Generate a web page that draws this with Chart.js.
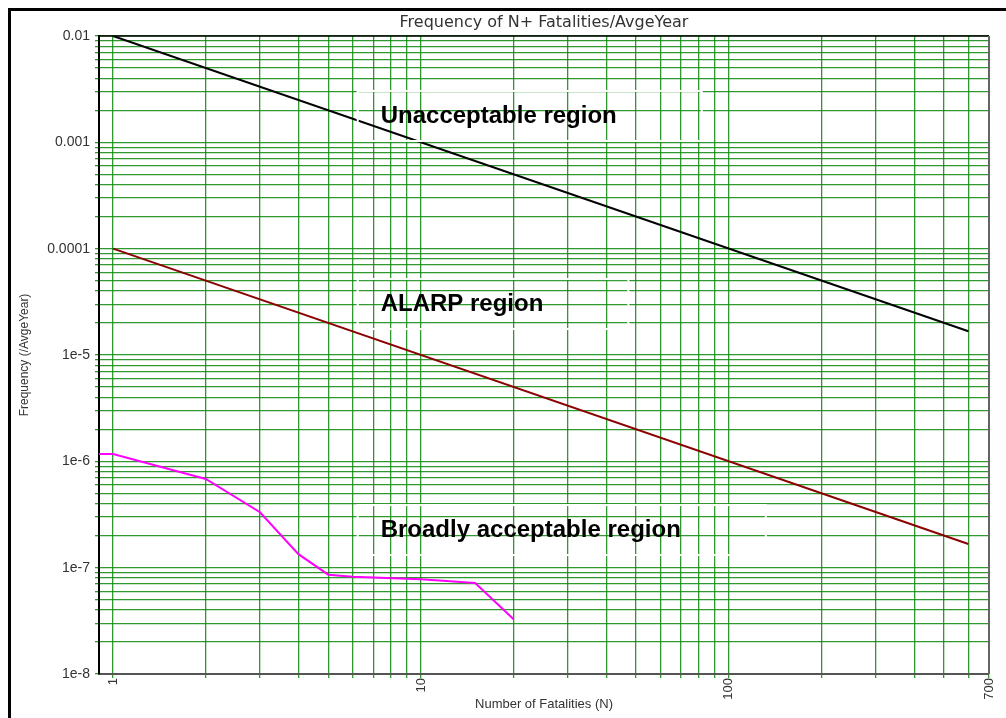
<!DOCTYPE html>
<html>
<head>
<meta charset="utf-8">
<title>F-N curve</title>
<script src="https://cdn.jsdelivr.net/npm/chart.js@4.4.1/dist/chart.umd.min.js"></script>
<style>
  html, body { margin: 0; padding: 0; background: #fff; }
  #wrap { position: relative; width: 1006px; height: 718px; overflow: hidden; }
  #frame { position: absolute; left: 8px; top: 8px; width: 1100px; height: 800px;
           border-top: 3px solid #000; border-left: 3px solid #000; pointer-events: none; }
</style>
</head>
<body>
<div id="wrap">
  <canvas id="fnChart" width="1006" height="718"></canvas>
  <div id="frame"></div>
</div>
<script>
// criterion lines (slope -1 on log-log)
var upperN = [1, 600];
var upperFreq = [0.01, 1.67e-5];
var lowerN = [1, 600];
var lowerFreq = [1e-4, 1.67e-7];

// calculated F-N curve
var fnN = [0.9, 1, 2, 3, 4, 5, 6, 10, 15, 20];
var fnFreq = [1.17e-6, 1.17e-6, 6.82e-7, 3.32e-7, 1.34e-7, 8.59e-8, 8.22e-8, 7.77e-8, 7.18e-8, 3.27e-8];

// labelled ticks
var xTickValues = [1, 10, 100, 700];
var xTickText = ["1", "10", "100", "700"];
var yTickValues = [0.01, 0.001, 0.0001, 1e-5, 1e-6, 1e-7, 1e-8];
var yTickText = ["0.01", "0.001", "0.0001", "1e-5", "1e-6", "1e-7", "1e-8"];

// region captions
var regionText = ["Unacceptable region", "ALARP region", "Broadly acceptable region"];
var regionN = [7.4, 7.4, 7.4];
var regionFreq = [1.52e-3, 2.59e-5, 1.94e-7];

// grid at every 1..9 step of each decade
var xGrid = [];
for (var e = 0; e <= 2; e++) {
  for (var k = 1; k <= 9; k++) {
    var v = k * Math.pow(10, e);
    if (v <= 700) xGrid.push(v);
  }
}
var yGrid = [];
for (var e2 = -8; e2 <= -3; e2++) {
  for (var k2 = 1; k2 <= 9; k2++) yGrid.push(Number((k2 * Math.pow(10, e2)).toPrecision(3)));
}
yGrid.push(0.01);

function points(xs, ys) {
  var out = [];
  for (var i = 0; i < xs.length; i++) out.push({ x: xs[i], y: ys[i] });
  return out;
}

function lookup(value, vals, texts) {
  for (var i = 0; i < vals.length; i++) {
    if (Math.abs(value - vals[i]) < vals[i] * 1e-6) return texts[i];
  }
  return "";
}

var gridColor = "rgba(10,135,10,0.85)";

const plotFrame = {
  id: "plotFrame",
  afterDraw(chart) {
    const { ctx, chartArea: a } = chart;
    ctx.save();
    ctx.lineWidth = 1.5;
    ctx.strokeStyle = "#000";
    ctx.beginPath();
    ctx.moveTo(a.left, a.top);
    ctx.lineTo(a.right, a.top);
    ctx.stroke();
    ctx.strokeStyle = "#666";
    ctx.lineWidth = 2;
    ctx.beginPath();
    ctx.moveTo(a.right, a.top);
    ctx.lineTo(a.right, a.bottom);
    ctx.stroke();
    ctx.restore();
  }
};

const regionLabels = {
  id: "regionLabels",
  afterDatasetsDraw(chart) {
    const { ctx, scales } = chart;
    ctx.save();
    ctx.font = 'bold 24px "Liberation Sans", Arial, sans-serif';
    ctx.textBaseline = "alphabetic";
    ctx.textAlign = "left";
    for (var i = 0; i < regionText.length; i++) {
      var px = scales.x.getPixelForValue(regionN[i]);
      var py = scales.y.getPixelForValue(regionFreq[i]);
      var w = ctx.measureText(regionText[i]).width;
      ctx.strokeStyle = "#fff";
      ctx.lineWidth = 2;
      ctx.strokeRect(px - 23, py - 32, w + 108, 50);
      ctx.fillStyle = "#000";
      ctx.fillText(regionText[i], px, py);
    }
    ctx.restore();
  }
};

Chart.defaults.font.family = '"Liberation Sans", Arial, sans-serif';
Chart.defaults.color = "#333";

new Chart(document.getElementById("fnChart"), {
  type: "line",
  data: {
    datasets: [
      {
        label: "Upper limit",
        data: points(upperN, upperFreq),
        borderColor: "#000",
        borderWidth: 2,
        pointRadius: 0
      },
      {
        label: "Lower limit",
        data: points(lowerN, lowerFreq),
        borderColor: "#8b0000",
        borderWidth: 2,
        pointRadius: 0
      },
      {
        label: "F-N curve",
        data: points(fnN, fnFreq),
        borderColor: "#ff00ff",
        borderWidth: 2,
        pointRadius: 0
      }
    ]
  },
  options: {
    responsive: false,
    animation: false,
    events: [],
    layout: { padding: { left: 0, right: 17, top: 0, bottom: 0 } },
    plugins: {
      legend: { display: false },
      tooltip: { enabled: false },
      title: {
        display: true,
        text: "Frequency of N+ Fatalities/AvgeYear",
        fullSize: false,
        color: "#333",
        font: { family: '"DejaVu Sans", Verdana, sans-serif', size: 16, weight: "normal", lineHeight: 1.125 },
        padding: { top: 14, bottom: 4 }
      }
    },
    scales: {
      x: {
        type: "logarithmic",
        min: 0.9,
        max: 700,
        afterBuildTicks: function (scale) {
          scale.ticks = xGrid.map(function (v) { return { value: v }; });
        },
        afterFit: function (scale) { scale.height = 44; },
        ticks: {
          autoSkip: false,
          minRotation: 90,
          maxRotation: 90,
          padding: 0,
          color: "#333",
          font: { size: 13 },
          callback: function (value) { return lookup(value, xTickValues, xTickText); }
        },
        grid: { color: gridColor, tickColor: gridColor, lineWidth: 1.3, tickLength: 4 },
        border: { color: "#555", width: 2 },
        title: {
          display: true,
          text: "Number of Fatalities (N)",
          color: "#333",
          font: { size: 13 },
          padding: { top: 0, bottom: 6 }
        }
      },
      y: {
        type: "logarithmic",
        min: 1e-8,
        max: 0.01,
        afterBuildTicks: function (scale) {
          scale.ticks = yGrid.map(function (v) { return { value: v }; });
        },
        afterFit: function (scale) { scale.width = 99; },
        ticks: {
          autoSkip: false,
          padding: 5,
          color: "#333",
          font: { size: 14 },
          callback: function (value) { return lookup(value, yTickValues, yTickText); }
        },
        grid: { color: gridColor, tickColor: gridColor, lineWidth: 1.3, tickLength: 4 },
        border: { color: "#000", width: 2 },
        title: {
          display: true,
          text: "Frequency (/AvgeYear)",
          color: "#333",
          font: { size: 12 },
          padding: { top: 17, bottom: 0 }
        }
      }
    }
  },
  plugins: [plotFrame, regionLabels]
});
</script>
</body>
</html>
